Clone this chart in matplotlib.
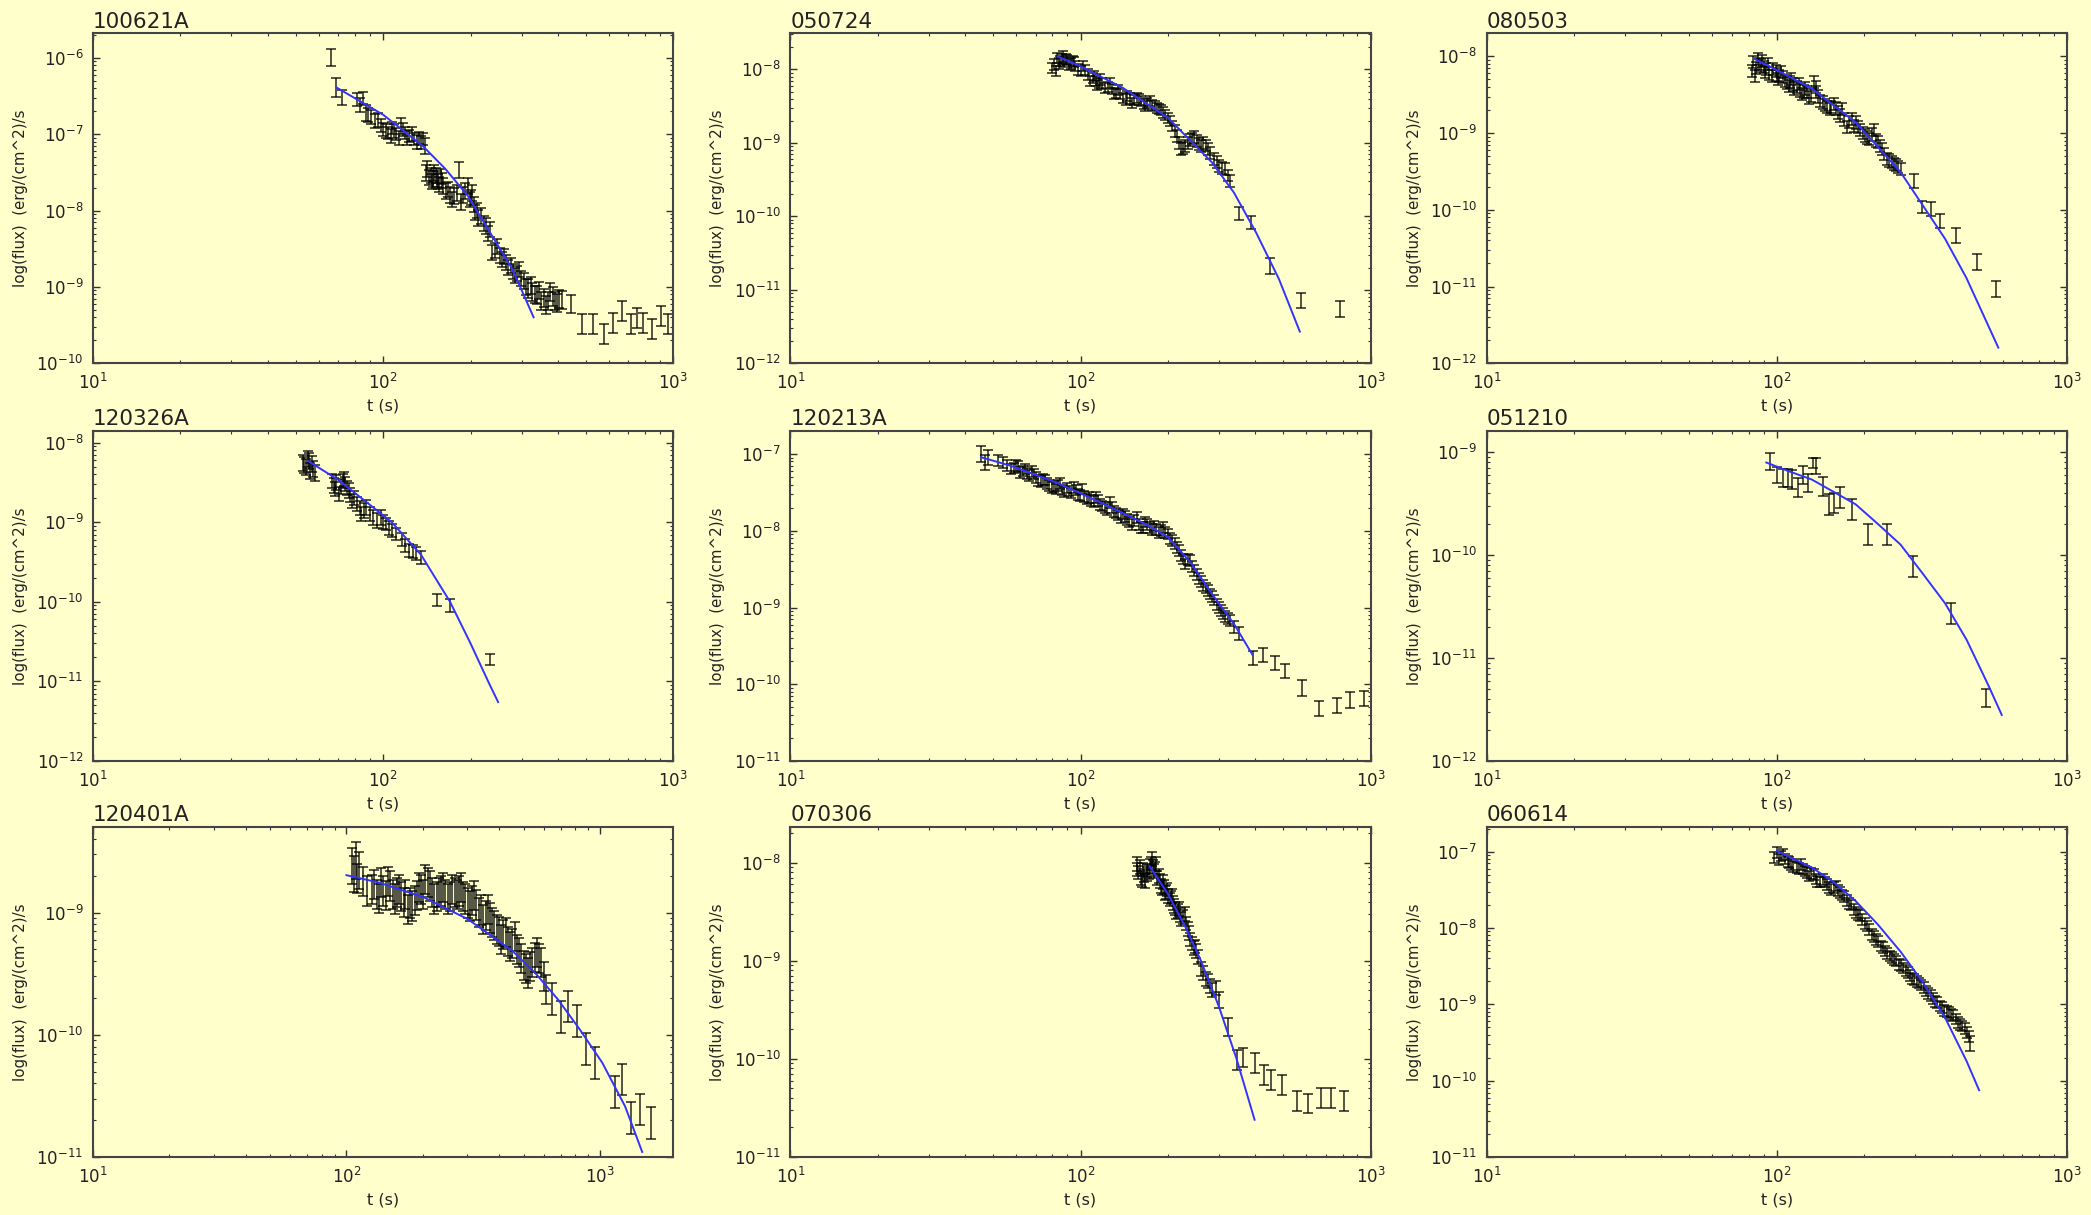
import numpy as np
import matplotlib.pyplot as plt

BG = "#ffffcc"

# ---- 100621A ----
t_100621A = [66, 69, 72, 81, 85, 87, 91, 96, 100, 104,
             107, 111, 115, 119, 123, 128, 133, 137, 139, 141,
             144, 147, 150, 153, 156, 158, 161, 167, 173, 179,
             183, 189, 196, 199, 203, 207, 210, 218, 226, 234,
             238, 247, 256, 265, 275, 284, 294, 305, 316, 327,
             339, 351, 364, 377, 390, 405, 444, 484, 530, 578,
             620, 665, 712, 750, 785, 842, 910, 960,
             83, 89, 94, 98, 102, 106, 109, 113, 117, 121,
             126, 131, 135, 142, 146, 149, 152, 155, 160, 164,
             170, 176, 186, 192, 201, 205, 213, 222, 230, 242,
             252, 260, 270, 280, 289, 299, 310, 322, 333, 345,
             358, 370, 384, 398, 415]
f_100621A = [1.0e-6, 4.1e-7, 3.0e-7, 2.85e-7, 3.0e-7, 1.9e-7, 1.7e-7, 1.55e-7, 1.15e-7, 1.04e-7,
             1.2e-7, 1.0e-7, 1.28e-7, 1.05e-7, 9.5e-8, 8.6e-8, 9.0e-8, 8.6e-8, 7.0e-8, 3.1e-8,
             2.7e-8, 2.4e-8, 3.1e-8, 2.6e-8, 2.2e-8, 2.8e-8, 2.1e-8, 1.9e-8, 1.4e-8, 1.7e-8,
             3.4e-8, 1.6e-8, 2.1e-8, 1.4e-8, 1.7e-8, 9.4e-9, 1.0e-8, 8.5e-9, 6.3e-9, 5.7e-9,
             2.8e-9, 3.4e-9, 2.3e-9, 2.1e-9, 1.9e-9, 1.4e-9, 1.7e-9, 1.2e-9, 9.5e-10, 8.6e-10,
             7.8e-10, 6.6e-10, 5.8e-10, 8.6e-10, 6.6e-10, 7.0e-10, 6.0e-10, 3.3e-10, 3.3e-10, 2.4e-10,
             3.4e-10, 4.8e-10, 3.3e-10, 3.9e-10, 3.4e-10, 2.8e-10, 4.2e-10, 3.3e-10,
             2.4e-7, 1.8e-7, 1.5e-7, 1.3e-7, 1.1e-7, 9.5e-8, 1.1e-7, 9.0e-8, 1.15e-7, 9.0e-8,
             1.0e-7, 8.0e-8, 7.8e-8, 3.5e-8, 2.9e-8, 2.6e-8, 2.9e-8, 2.4e-8, 2.5e-8, 1.8e-8,
             1.6e-8, 1.55e-8, 1.3e-8, 1.8e-8, 1.5e-8, 1.2e-8, 8.0e-9, 6.8e-9, 5.0e-9, 3.0e-9,
             2.6e-9, 2.5e-9, 1.8e-9, 1.6e-9, 1.5e-9, 1.3e-9, 1.0e-9, 1.05e-9, 8.0e-10, 9.0e-10,
             7.2e-10, 6.5e-10, 7.5e-10, 6.2e-10, 6.8e-10]
e_100621A = [0.11, 0.12, 0.1, 0.08, 0.08, 0.1, 0.09, 0.09, 0.09, 0.08,
             0.08, 0.08, 0.1, 0.08, 0.08, 0.08, 0.08, 0.08, 0.1, 0.1,
             0.1, 0.1, 0.1, 0.1, 0.1, 0.1, 0.1, 0.1, 0.1, 0.1,
             0.1, 0.1, 0.1, 0.1, 0.1, 0.1, 0.1, 0.1, 0.1, 0.1,
             0.1, 0.1, 0.1, 0.1, 0.1, 0.1, 0.1, 0.1, 0.12, 0.12,
             0.12, 0.12, 0.12, 0.12, 0.12, 0.12, 0.12, 0.13, 0.13, 0.13,
             0.13, 0.13, 0.13, 0.13, 0.13, 0.13, 0.13, 0.13,
             0.09, 0.09, 0.09, 0.09, 0.09, 0.09, 0.09, 0.09, 0.09, 0.09,
             0.09, 0.09, 0.09, 0.1, 0.1, 0.1, 0.1, 0.1, 0.1, 0.1,
             0.1, 0.1, 0.1, 0.1, 0.1, 0.1, 0.1, 0.1, 0.1, 0.1,
             0.1, 0.1, 0.1, 0.1, 0.1, 0.1, 0.11, 0.11, 0.11, 0.11,
             0.12, 0.12, 0.12, 0.12, 0.12]
fit_t_100621A = [69, 100, 137, 164, 196, 234, 279, 330]
fit_f_100621A = [4.1e-7, 1.8e-7, 7.0e-8, 3.5e-8, 1.55e-8, 5.1e-9, 1.7e-9, 4.0e-10]

# ---- 050724 ----
t_050724 = [81, 82, 83, 85, 87, 89, 91, 94, 96, 100,
            102, 106, 108, 111, 114, 117, 121, 126, 130, 135,
            140, 145, 150, 156, 162, 167, 174, 180, 186, 193,
            200, 207, 215, 222, 230, 239, 247, 256, 265, 275,
            289, 300, 316, 327, 352, 386, 450, 577, 785,
            80, 84, 86, 88, 90, 93, 95, 98, 104, 110,
            113, 116, 119, 124, 128, 132, 137, 143, 148, 153,
            159, 165, 170, 177, 183, 190, 196, 203, 211, 218,
            226, 234, 243, 252, 260, 270, 280, 295, 308, 322]
f_050724 = [1.17e-8, 9.5e-9, 1.44e-8, 1.3e-8, 1.5e-8, 1.37e-8, 1.17e-8, 1.3e-8, 1.1e-8, 9.5e-9,
            1.1e-8, 8.5e-9, 6.9e-9, 8.1e-9, 6.2e-9, 7.3e-9, 5.6e-9, 6.6e-9, 4.6e-9, 5.3e-9,
            4.1e-9, 4.3e-9, 3.5e-9, 4.1e-9, 3.7e-9, 3.2e-9, 3.7e-9, 3.2e-9, 2.9e-9, 2.6e-9,
            2.2e-9, 1.7e-9, 1.25e-9, 8.2e-10, 9.0e-10, 1.1e-9, 1.2e-9, 9.6e-10, 1.0e-9, 8.2e-10,
            6.0e-10, 4.9e-10, 4.4e-10, 3.0e-10, 1.1e-10, 8.3e-11, 2.1e-11, 7.1e-12, 5.5e-12,
            1.05e-8, 1.2e-8, 1.4e-8, 1.25e-8, 1.35e-8, 1.2e-8, 1.25e-8, 1.0e-8, 9.8e-9, 7.6e-9,
            7.0e-9, 6.6e-9, 6.4e-9, 5.8e-9, 5.4e-9, 4.8e-9, 4.6e-9, 3.9e-9, 4.0e-9, 3.8e-9,
            3.9e-9, 3.4e-9, 3.5e-9, 3.3e-9, 3.0e-9, 2.8e-9, 2.4e-9, 2.0e-9, 1.45e-9, 1.0e-9,
            8.6e-10, 1.0e-9, 1.15e-9, 1.05e-9, 9.0e-10, 9.2e-10, 7.2e-10, 5.5e-10, 4.6e-10, 3.6e-10]
e_050724 = [0.07, 0.07, 0.07, 0.07, 0.07, 0.07, 0.07, 0.07, 0.07, 0.07,
            0.07, 0.07, 0.07, 0.07, 0.07, 0.07, 0.07, 0.07, 0.07, 0.07,
            0.07, 0.07, 0.07, 0.07, 0.07, 0.07, 0.07, 0.07, 0.07, 0.07,
            0.07, 0.07, 0.08, 0.08, 0.08, 0.08, 0.08, 0.08, 0.08, 0.08,
            0.08, 0.08, 0.08, 0.08, 0.09, 0.09, 0.11, 0.1, 0.11,
            0.07, 0.07, 0.07, 0.07, 0.07, 0.07, 0.07, 0.07, 0.07, 0.07,
            0.07, 0.07, 0.07, 0.07, 0.07, 0.07, 0.07, 0.07, 0.07, 0.07,
            0.07, 0.07, 0.07, 0.07, 0.07, 0.07, 0.07, 0.07, 0.08, 0.08,
            0.08, 0.08, 0.08, 0.08, 0.08, 0.08, 0.08, 0.08, 0.08, 0.08]
fit_t_050724 = [83.5, 100, 140, 200, 284, 338, 403, 483, 570]
fit_f_050724 = [1.5e-8, 1.1e-8, 5.6e-9, 2.2e-9, 5.4e-10, 2.1e-10, 6.0e-11, 1.4e-11, 2.7e-12]

# ---- 080503 ----
t_080503 = [82, 83, 84, 86, 88, 89, 91, 93, 96, 99,
            101, 103, 107, 110, 112, 115, 119, 122, 125, 129,
            134, 137, 141, 146, 152, 157, 162, 168, 174, 181,
            187, 194, 201, 208, 216, 223, 231, 240, 249, 258,
            267, 298, 317, 341, 366, 415, 488, 570,
            85, 87, 90, 92, 94, 97, 100, 102, 105, 108,
            111, 114, 117, 120, 124, 127, 131, 136, 139, 144,
            149, 154, 160, 165, 171, 178, 184, 191, 198, 205,
            212, 219, 227, 235, 244, 253, 262]
f_080503 = [6.5e-9, 8.4e-9, 5.6e-9, 9.2e-9, 7.6e-9, 8.8e-9, 6.2e-9, 7.9e-9, 5.6e-9, 6.5e-9,
            5.1e-9, 6.2e-9, 4.8e-9, 4.1e-9, 5.1e-9, 3.8e-9, 4.4e-9, 3.2e-9, 3.8e-9, 2.9e-9,
            4.6e-9, 3.4e-9, 2.65e-9, 2.3e-9, 2.05e-9, 2.4e-9, 1.86e-9, 2.05e-9, 1.19e-9, 1.53e-9,
            1.38e-9, 1.1e-9, 9.3e-10, 8.4e-10, 1.1e-9, 7.6e-10, 6.2e-10, 4.6e-10, 4.2e-10, 3.8e-10,
            3.4e-10, 2.4e-10, 1.1e-10, 1.03e-10, 7.2e-11, 4.6e-11, 2.1e-11, 9.3e-12,
            7.0e-9, 8.0e-9, 7.2e-9, 6.8e-9, 6.0e-9, 6.8e-9, 5.8e-9, 5.5e-9, 5.4e-9, 4.5e-9,
            4.6e-9, 4.3e-9, 4.0e-9, 3.6e-9, 3.5e-9, 3.4e-9, 3.1e-9, 4.0e-9, 3.0e-9, 2.5e-9,
            2.2e-9, 2.2e-9, 2.1e-9, 1.7e-9, 1.5e-9, 1.4e-9, 1.25e-9, 1.2e-9, 1.0e-9, 8.8e-10,
            9.6e-10, 8.0e-10, 6.8e-10, 5.3e-10, 4.4e-10, 4.0e-10, 3.6e-10]
e_080503 = [0.08, 0.08, 0.08, 0.08, 0.08, 0.08, 0.08, 0.08, 0.08, 0.08,
            0.08, 0.08, 0.08, 0.08, 0.08, 0.08, 0.08, 0.08, 0.08, 0.08,
            0.08, 0.08, 0.08, 0.08, 0.08, 0.08, 0.08, 0.08, 0.08, 0.08,
            0.08, 0.08, 0.08, 0.08, 0.08, 0.08, 0.08, 0.08, 0.08, 0.08,
            0.08, 0.09, 0.08, 0.09, 0.09, 0.1, 0.1, 0.1,
            0.08, 0.08, 0.08, 0.08, 0.08, 0.08, 0.08, 0.08, 0.08, 0.08,
            0.08, 0.08, 0.08, 0.08, 0.08, 0.08, 0.08, 0.08, 0.08, 0.08,
            0.08, 0.08, 0.08, 0.08, 0.08, 0.08, 0.08, 0.08, 0.08, 0.08,
            0.08, 0.08, 0.08, 0.08, 0.08, 0.08, 0.08]
fit_t_080503 = [84, 101, 132, 187, 267, 380, 450, 580]
fit_f_080503 = [9.2e-9, 6.5e-9, 3.8e-9, 1.38e-9, 3.1e-10, 4.2e-11, 1.3e-11, 1.6e-12]

# ---- 120326A ----
t_120326A = [53, 54, 55, 56, 57, 58, 66.6, 68, 69, 70.6,
             72.6, 74, 76, 78, 81, 84, 87, 90, 95, 98,
             102, 107, 111, 119, 123, 130, 135, 153, 170, 234,
             53.5, 55.5, 57.5, 67.5, 71.5, 73, 75, 77, 79.5, 83,
             86, 92, 100, 105, 116, 127]
f_120326A = [5.6e-9, 4.9e-9, 6.2e-9, 4.4e-9, 5.4e-9, 4.2e-9, 3.3e-9, 2.6e-9, 3.15e-9, 2.25e-9,
             3.3e-9, 3.0e-9, 2.5e-9, 1.86e-9, 1.7e-9, 1.27e-9, 1.53e-9, 1.27e-9, 1.05e-9, 1.15e-9,
             9.5e-10, 7.8e-10, 7.1e-10, 5.1e-10, 4.4e-10, 4.0e-10, 3.6e-10, 1.05e-10, 9.0e-11, 1.9e-11,
             5.2e-9, 5.8e-9, 4.6e-9, 2.9e-9, 2.8e-9, 3.5e-9, 2.7e-9, 2.2e-9, 2.0e-9, 1.5e-9,
             1.4e-9, 1.15e-9, 1.0e-9, 8.5e-10, 6.0e-10, 4.3e-10]
e_120326A = [0.1, 0.1, 0.1, 0.1, 0.1, 0.1, 0.09, 0.09, 0.09, 0.09,
             0.09, 0.09, 0.09, 0.09, 0.09, 0.09, 0.09, 0.09, 0.09, 0.09,
             0.08, 0.08, 0.08, 0.08, 0.08, 0.08, 0.08, 0.08, 0.08, 0.07,
             0.1, 0.1, 0.1, 0.09, 0.09, 0.09, 0.09, 0.09, 0.09, 0.09,
             0.09, 0.09, 0.09, 0.09, 0.08, 0.08]
fit_t_120326A = [55, 70, 85, 107, 135, 170, 200, 230, 249]
fit_f_120326A = [5.9e-9, 3.4e-9, 1.95e-9, 1.0e-9, 3.9e-10, 1.0e-10, 3.0e-11, 1.0e-11, 5.5e-12]

# ---- 120213A ----
t_120213A = [45.4, 46.7, 48, 54, 55.6, 57.7, 59.9, 62, 64.4, 66.7,
             69, 71.6, 74, 76.7, 79.5, 82, 85, 88, 91, 94.7,
             98, 101.5, 105, 109, 113, 117, 121, 126, 130, 135,
             140, 145, 150, 156, 161, 167, 173, 179, 186, 192,
             200, 207, 215, 222, 230, 239, 247, 256, 265, 275,
             284, 295, 305, 316, 327, 352, 392, 427, 467, 508,
             578, 666, 765, 852, 950,
             52, 58.8, 61, 63.2, 65.5, 67.8, 70.3, 72.8, 75.3, 78,
             80.7, 83.5, 86.5, 89.5, 92.8, 96.3, 99.7, 103, 107, 111,
             115, 119, 123.5, 128, 132.5, 137.5, 142.5, 147.5, 153, 158.5,
             164, 170, 176, 182.5, 189, 196, 203, 211, 218.5, 226,
             234.5, 243, 251.5, 260.5, 270, 279.5, 289.5, 300, 310.5, 321.5,
             339]
f_120213A = [1.0e-7, 7.8e-8, 9.1e-8, 7.8e-8, 7.05e-8, 6.4e-8, 7.05e-8, 5.8e-8, 6.4e-8, 5.2e-8,
             5.5e-8, 4.5e-8, 4.7e-8, 4.1e-8, 3.7e-8, 3.5e-8, 4.1e-8, 3.2e-8, 3.3e-8, 3.7e-8,
             3.0e-8, 3.5e-8, 2.6e-8, 2.5e-8, 2.7e-8, 2.2e-8, 2.0e-8, 2.35e-8, 1.8e-8, 1.6e-8,
             1.65e-8, 1.4e-8, 1.2e-8, 1.5e-8, 1.1e-8, 1.3e-8, 1.1e-8, 1.15e-8, 9.6e-9, 1.1e-8,
             9.1e-9, 7.5e-9, 6.1e-9, 4.8e-9, 3.7e-9, 4.1e-9, 3.05e-9, 2.4e-9, 1.95e-9, 1.65e-9,
             1.4e-9, 1.1e-9, 9.2e-10, 7.6e-10, 6.8e-10, 4.6e-10, 2.2e-10, 2.4e-10, 1.9e-10, 1.5e-10,
             8.9e-11, 4.8e-11, 5.3e-11, 6.2e-11, 6.5e-11,
             8.2e-8, 6.6e-8, 6.9e-8, 6.0e-8, 5.6e-8, 5.9e-8, 5.0e-8, 4.4e-8, 4.6e-8, 3.9e-8,
             3.8e-8, 3.9e-8, 3.4e-8, 3.6e-8, 3.1e-8, 3.4e-8, 2.9e-8, 2.8e-8, 2.7e-8, 2.4e-8,
             2.5e-8, 2.1e-8, 1.9e-8, 2.0e-8, 1.7e-8, 1.5e-8, 1.55e-8, 1.3e-8, 1.35e-8, 1.2e-8,
             1.1e-8, 1.2e-8, 1.05e-8, 1.05e-8, 1.0e-8, 9.5e-9, 8.0e-9, 6.8e-9, 5.5e-9, 4.3e-9,
             4.2e-9, 3.4e-9, 2.7e-9, 2.2e-9, 1.8e-9, 1.5e-9, 1.25e-9, 1.0e-9, 8.4e-10, 7.2e-10,
             5.6e-10]
e_120213A = [0.1, 0.1, 0.1, 0.07, 0.07, 0.07, 0.07, 0.07, 0.07, 0.07,
             0.07, 0.07, 0.07, 0.07, 0.07, 0.07, 0.07, 0.07, 0.07, 0.07,
             0.07, 0.07, 0.07, 0.07, 0.07, 0.07, 0.07, 0.07, 0.07, 0.07,
             0.07, 0.07, 0.07, 0.07, 0.07, 0.07, 0.07, 0.07, 0.07, 0.07,
             0.07, 0.07, 0.07, 0.07, 0.07, 0.07, 0.07, 0.07, 0.07, 0.07,
             0.07, 0.07, 0.07, 0.07, 0.07, 0.08, 0.09, 0.09, 0.09, 0.09,
             0.1, 0.1, 0.1, 0.1, 0.1,
             0.07, 0.07, 0.07, 0.07, 0.07, 0.07, 0.07, 0.07, 0.07, 0.07,
             0.07, 0.07, 0.07, 0.07, 0.07, 0.07, 0.07, 0.07, 0.07, 0.07,
             0.07, 0.07, 0.07, 0.07, 0.07, 0.07, 0.07, 0.07, 0.07, 0.07,
             0.07, 0.07, 0.07, 0.07, 0.07, 0.07, 0.07, 0.07, 0.07, 0.07,
             0.07, 0.07, 0.07, 0.07, 0.07, 0.07, 0.07, 0.07, 0.07, 0.07,
             0.08]
fit_t_120213A = [45.4, 57.7, 82, 117, 167, 200, 239, 284, 339, 392]
fit_f_120213A = [9.1e-8, 7.0e-8, 4.3e-8, 2.35e-8, 1.23e-8, 8.3e-9, 3.9e-9, 1.5e-9, 6.0e-10, 2.4e-10]

# ---- 051210 ----
t_051210 = [95, 100, 105, 109, 113, 118, 123, 128, 133, 137,
            144, 151, 158, 165, 182, 206, 240, 294, 399, 528]
f_051210 = [8.1e-10, 6.0e-10, 5.6e-10, 5.6e-10, 5.4e-10, 4.5e-10, 6.0e-10, 5.0e-10, 7.8e-10, 7.3e-10,
            4.6e-10, 3.1e-10, 3.2e-10, 3.6e-10, 2.75e-10, 1.57e-10, 1.57e-10, 7.7e-11, 2.7e-11, 4.1e-12]
e_051210 = [0.08, 0.08, 0.09, 0.09, 0.09, 0.09, 0.09, 0.09, 0.05, 0.08,
            0.09, 0.1, 0.1, 0.1, 0.1, 0.1, 0.1, 0.1, 0.1, 0.09]
fit_t_051210 = [92, 110, 132, 157, 187, 223, 267, 317, 380, 451, 538, 596]
fit_f_051210 = [7.9e-10, 6.5e-10, 5.4e-10, 4.1e-10, 3.1e-10, 2.0e-10, 1.26e-10, 6.7e-11, 3.4e-11,
                1.5e-11, 5.3e-12, 2.8e-12]

# ---- 120401A ----
t_120401A = [105, 107, 109, 112, 126, 132, 137, 143, 149, 155,
             161, 168, 175, 182, 190, 197, 205, 214, 222, 232,
             241, 251, 262, 272, 284, 295, 307, 320, 333, 347,
             361, 377, 392, 408, 425, 443, 461, 480, 500, 521,
             542, 565, 588, 612, 650, 704, 748, 813, 882, 957,
             1150, 1222, 1326, 1440, 1590,
             110, 116, 121, 129, 134, 140, 146, 152, 158, 164,
             171, 178, 186, 193, 201, 209, 218, 227, 236, 246,
             256, 267, 278, 289, 301, 313, 326, 340, 354, 369,
             384, 400, 416, 434, 452, 470, 490, 510, 531, 553,
             576, 600]
f_120401A = [2.4e-9, 2.06e-9, 2.65e-9, 2.2e-9, 1.55e-9, 1.41e-9, 1.76e-9, 1.37e-9, 1.65e-9, 1.29e-9,
             1.55e-9, 1.21e-9, 1.06e-9, 1.13e-9, 1.37e-9, 1.55e-9, 1.87e-9, 1.65e-9, 1.29e-9, 1.46e-9,
             1.6e-9, 1.29e-9, 1.55e-9, 1.41e-9, 1.6e-9, 1.29e-9, 1.13e-9, 1.37e-9, 1.0e-9, 8.8e-10,
             1.06e-9, 8.3e-10, 7.3e-10, 6.05e-10, 6.9e-10, 5.3e-10, 6.4e-10, 4.7e-10, 3.7e-10, 3.2e-10,
             3.9e-10, 4.7e-10, 3.9e-10, 2.35e-10, 1.95e-10, 1.4e-10, 1.7e-10, 1.3e-10, 7.6e-11, 5.9e-11,
             3.4e-11, 4.3e-11, 2.1e-11, 2.45e-11, 1.9e-11,
             1.9e-9, 1.8e-9, 1.5e-9, 1.7e-9, 1.3e-9, 1.5e-9, 1.8e-9, 1.4e-9, 1.45e-9, 1.35e-9,
             1.4e-9, 1.2e-9, 1.25e-9, 1.6e-9, 1.4e-9, 1.75e-9, 1.45e-9, 1.35e-9, 1.5e-9, 1.4e-9,
             1.35e-9, 1.45e-9, 1.5e-9, 1.35e-9, 1.2e-9, 1.25e-9, 1.15e-9, 1.05e-9, 9.5e-10, 9.0e-10,
             7.8e-10, 7.0e-10, 6.6e-10, 5.8e-10, 5.6e-10, 5.0e-10, 4.2e-10, 3.5e-10, 3.6e-10, 4.3e-10,
             4.2e-10, 3.0e-10]
e_120401A = [0.15, 0.15, 0.15, 0.15, 0.12, 0.12, 0.12, 0.12, 0.12, 0.12,
             0.12, 0.12, 0.12, 0.12, 0.12, 0.12, 0.12, 0.12, 0.12, 0.12,
             0.12, 0.12, 0.12, 0.12, 0.12, 0.12, 0.12, 0.12, 0.12, 0.12,
             0.12, 0.12, 0.12, 0.12, 0.12, 0.12, 0.12, 0.12, 0.12, 0.12,
             0.12, 0.12, 0.12, 0.12, 0.13, 0.13, 0.13, 0.13, 0.13, 0.13,
             0.13, 0.13, 0.13, 0.13, 0.13,
             0.12, 0.12, 0.12, 0.12, 0.12, 0.12, 0.12, 0.12, 0.12, 0.12,
             0.12, 0.12, 0.12, 0.12, 0.12, 0.12, 0.12, 0.12, 0.12, 0.12,
             0.12, 0.12, 0.12, 0.12, 0.12, 0.12, 0.12, 0.12, 0.12, 0.12,
             0.12, 0.12, 0.12, 0.12, 0.12, 0.12, 0.12, 0.12, 0.12, 0.12,
             0.12, 0.12]
fit_t_120401A = [100, 134, 202, 302, 452, 556, 683, 835, 1023, 1258, 1470]
fit_f_120401A = [2.02e-9, 1.76e-9, 1.33e-9, 8.8e-10, 4.85e-10, 3.2e-10, 1.95e-10, 1.1e-10, 5.9e-11,
                 2.6e-11, 1.1e-11]

# ---- 070306 ----
t_070306 = [156, 158, 161, 164, 167, 170, 173, 176, 179, 182,
            186, 189, 192, 196, 199, 203, 207, 210, 214, 218,
            222, 229, 234, 238, 246, 251, 260, 270, 279, 294,
            300, 322, 345, 364, 398, 428, 452, 493, 556, 609,
            677, 728, 810,
            157, 160, 163, 166, 169, 172, 175, 178, 181, 184,
            188, 191, 194, 197, 201, 205, 209, 212, 216, 220,
            225, 231, 236, 242, 248, 255, 265, 275, 285]
f_070306 = [9.6e-9, 7.9e-9, 7.0e-9, 8.5e-9, 6.5e-9, 7.6e-9, 9.2e-9, 1.08e-8, 8.2e-9, 9.6e-9,
            7.3e-9, 5.8e-9, 6.3e-9, 4.9e-9, 5.3e-9, 4.2e-9, 4.6e-9, 3.6e-9, 3.1e-9, 3.35e-9,
            2.65e-9, 3.0e-9, 2.1e-9, 1.65e-9, 1.35e-9, 1.25e-9, 8.2e-10, 6.5e-10, 5.5e-10, 5.3e-10,
            4.0e-10, 2.1e-10, 9.8e-11, 1.03e-10, 9.1e-11, 6.9e-11, 6.1e-11, 5.4e-11, 3.7e-11, 3.5e-11,
            4.0e-11, 4.0e-11, 3.7e-11,
            8.5e-9, 9.0e-9, 6.6e-9, 7.4e-9, 8.3e-9, 8.0e-9, 9.8e-9, 9.0e-9, 8.6e-9, 7.0e-9,
            6.5e-9, 5.5e-9, 5.6e-9, 5.0e-9, 4.6e-9, 4.4e-9, 3.9e-9, 3.4e-9, 3.2e-9, 2.9e-9,
            2.8e-9, 2.4e-9, 1.9e-9, 1.5e-9, 1.4e-9, 1.1e-9, 7.5e-10, 6.2e-10, 5.0e-10]
e_070306 = [0.07, 0.07, 0.07, 0.07, 0.07, 0.07, 0.07, 0.07, 0.07, 0.07,
            0.07, 0.07, 0.07, 0.07, 0.07, 0.07, 0.07, 0.07, 0.07, 0.07,
            0.07, 0.07, 0.07, 0.07, 0.07, 0.07, 0.07, 0.07, 0.07, 0.07,
            0.08, 0.09, 0.1, 0.1, 0.1, 0.1, 0.1, 0.1, 0.1, 0.1,
            0.1, 0.1, 0.1,
            0.07, 0.07, 0.07, 0.07, 0.07, 0.07, 0.07, 0.07, 0.07, 0.07,
            0.07, 0.07, 0.07, 0.07, 0.07, 0.07, 0.07, 0.07, 0.07, 0.07,
            0.07, 0.07, 0.07, 0.07, 0.07, 0.07, 0.07, 0.07, 0.07]
fit_t_070306 = [173, 200, 230, 260, 300, 345, 398]
fit_f_070306 = [9.2e-9, 4.8e-9, 2.2e-9, 1.0e-9, 3.4e-10, 1.0e-10, 2.4e-11]

# ---- 060614 ----
t_060614 = [98, 100, 102, 105, 109, 112, 117, 121, 125, 129,
            134, 138, 144, 149, 154, 160, 165, 171, 177, 184,
            190, 197, 205, 212, 220, 228, 236, 245, 254, 263,
            273, 283, 293, 304, 315, 327, 339, 351, 364, 378,
            392, 406, 421, 436, 452, 464,
            103, 107, 110, 114, 119, 123, 127, 131, 136, 141,
            146, 151, 157, 162, 168, 174, 180, 187, 193, 201,
            208, 216, 224, 232, 240, 249, 258, 268, 278, 288,
            298, 309, 321, 333, 345, 357, 371, 385, 399, 413,
            428, 444, 458]
f_060614 = [8.3e-8, 9.7e-8, 7.9e-8, 9.2e-8, 7.5e-8, 6.8e-8, 6.2e-8, 6.8e-8, 5.6e-8, 4.8e-8,
            5.0e-8, 4.1e-8, 4.3e-8, 3.7e-8, 3.2e-8, 3.55e-8, 2.9e-8, 2.6e-8, 2.1e-8, 1.76e-8,
            1.5e-8, 1.3e-8, 1.06e-8, 8.3e-9, 7.1e-9, 5.8e-9, 5.0e-9, 4.3e-9, 3.9e-9, 3.3e-9,
            3.0e-9, 2.6e-9, 2.2e-9, 2.0e-9, 1.8e-9, 1.5e-9, 1.3e-9, 1.1e-9, 9.5e-10, 8.3e-10,
            7.8e-10, 7.1e-10, 5.8e-10, 5.2e-10, 4.3e-10, 3.1e-10,
            8.8e-8, 8.0e-8, 7.2e-8, 6.4e-8, 6.0e-8, 5.9e-8, 5.3e-8, 5.2e-8, 4.4e-8, 4.0e-8,
            4.0e-8, 3.4e-8, 3.4e-8, 3.1e-8, 2.7e-8, 2.3e-8, 2.0e-8, 1.6e-8, 1.45e-8, 1.15e-8,
            9.5e-9, 7.8e-9, 6.6e-9, 5.6e-9, 4.6e-9, 4.1e-9, 3.7e-9, 3.2e-9, 2.8e-9, 2.4e-9,
            2.1e-9, 1.9e-9, 1.65e-9, 1.4e-9, 1.2e-9, 1.05e-9, 9.0e-10, 8.0e-10, 7.4e-10, 6.4e-10,
            5.5e-10, 4.8e-10, 3.8e-10]
e_060614 = [0.07, 0.07, 0.07, 0.07, 0.07, 0.07, 0.07, 0.07, 0.07, 0.07,
            0.07, 0.07, 0.07, 0.07, 0.07, 0.07, 0.07, 0.07, 0.07, 0.07,
            0.07, 0.07, 0.07, 0.07, 0.07, 0.07, 0.07, 0.07, 0.07, 0.07,
            0.07, 0.07, 0.07, 0.07, 0.07, 0.07, 0.07, 0.07, 0.07, 0.07,
            0.07, 0.07, 0.07, 0.07, 0.07, 0.1,
            0.07, 0.07, 0.07, 0.07, 0.07, 0.07, 0.07, 0.07, 0.07, 0.07,
            0.07, 0.07, 0.07, 0.07, 0.07, 0.07, 0.07, 0.07, 0.07, 0.07,
            0.07, 0.07, 0.07, 0.07, 0.07, 0.07, 0.07, 0.07, 0.07, 0.07,
            0.07, 0.07, 0.07, 0.07, 0.07, 0.07, 0.07, 0.07, 0.07, 0.07,
            0.07, 0.07, 0.07]
fit_t_060614 = [100, 132, 157, 187, 223, 267, 317, 380, 451, 498]
fit_f_060614 = [1.02e-7, 6.2e-8, 4.0e-8, 2.25e-8, 1.11e-8, 4.9e-9, 2.0e-9, 6.7e-10, 1.8e-10, 7.5e-11]

# panel name, data, fit, y-range, x-range
panels = [
    ("100621A", t_100621A, f_100621A, e_100621A, fit_t_100621A, fit_f_100621A, (1e-10, 2.1e-6), (10, 1000)),
    ("050724", t_050724, f_050724, e_050724, fit_t_050724, fit_f_050724, (1e-12, 3.1e-8), (10, 1000)),
    ("080503", t_080503, f_080503, e_080503, fit_t_080503, fit_f_080503, (1e-12, 2.0e-8), (10, 1000)),
    ("120326A", t_120326A, f_120326A, e_120326A, fit_t_120326A, fit_f_120326A, (1e-12, 1.4e-8), (10, 1000)),
    ("120213A", t_120213A, f_120213A, e_120213A, fit_t_120213A, fit_f_120213A, (1e-11, 2.0e-7), (10, 1000)),
    ("051210", t_051210, f_051210, e_051210, fit_t_051210, fit_f_051210, (1e-12, 1.6e-9), (10, 1000)),
    ("120401A", t_120401A, f_120401A, e_120401A, fit_t_120401A, fit_f_120401A, (1e-11, 5.0e-9), (10, 1950)),
    ("070306", t_070306, f_070306, e_070306, fit_t_070306, fit_f_070306, (1e-11, 2.3e-8), (10, 1000)),
    ("060614", t_060614, f_060614, e_060614, fit_t_060614, fit_f_060614, (1e-11, 2.1e-7), (10, 1000)),
]

fig = plt.figure(figsize=(20.91, 12.15), dpi=100, facecolor=BG)

lefts = [0.0445, 0.378, 0.711]
bottoms = [0.701, 0.3737, 0.0477]
width, height = 0.2775, 0.2716

for i, (name, t, f, e, ft, ff, ylim, xlim) in enumerate(panels):
    row, col = divmod(i, 3)
    ax = fig.add_axes([lefts[col], bottoms[row], width, height], facecolor=BG)

    t = np.asarray(t, dtype=float)
    f = np.asarray(f, dtype=float)
    e = np.asarray(e, dtype=float)
    lower = f - f / 10 ** e
    upper = f * 10 ** e - f

    ax.errorbar(t, f, yerr=[lower, upper], fmt="none", ecolor="black",
                elinewidth=1.3, capsize=3.6, capthick=1.3, alpha=0.72)
    ax.plot(ft, ff, color="#3333ff", lw=1.4)

    ax.set_xscale("log")
    ax.set_yscale("log")
    ax.set_xlim(*xlim)
    ax.set_ylim(*ylim)

    ax.tick_params(which="both", direction="in", top=True, right=True,
                   colors="#333333", labelcolor="#222222")
    ax.tick_params(which="major", length=5, width=1, labelsize=12, pad=7)
    ax.tick_params(which="minor", length=2.5, width=0.8)
    for sp in ax.spines.values():
        sp.set_color("#444444")
        sp.set_linewidth(1.5)

    ax.set_xlabel("t (s)", fontsize=11.5, color="#222222", labelpad=4)
    ax.set_ylabel("log(flux)  (erg/(cm^2)/s", fontsize=10.8, color="#222222", labelpad=6)
    ax.set_title(name, loc="left", fontsize=15.5, color="#222222", pad=4)

fig.savefig("out.png", dpi=100, facecolor=BG)
